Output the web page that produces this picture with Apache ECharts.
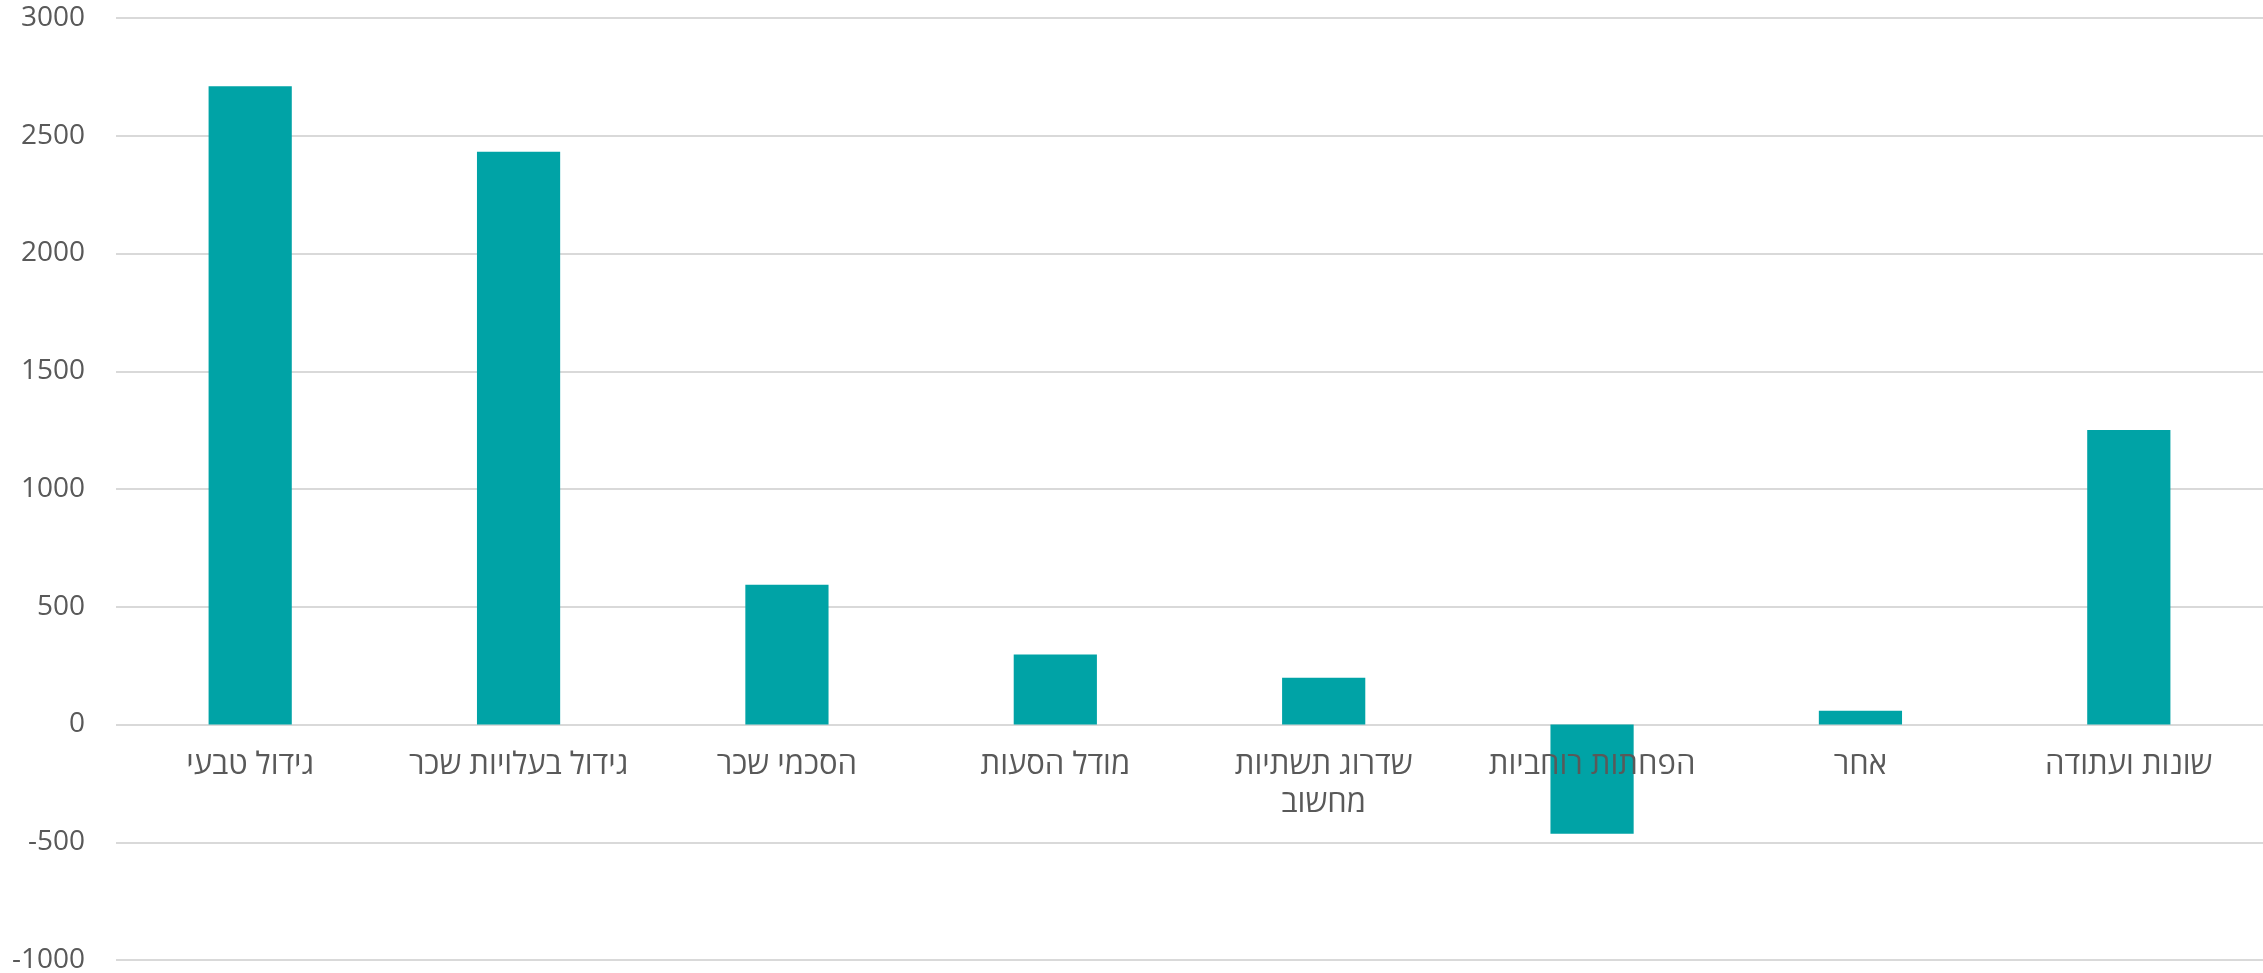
<!DOCTYPE html>
<html>
<head>
<meta charset="utf-8">
<style>
  html, body { margin: 0; padding: 0; background: #fff; }
  #chart { width: 2263px; height: 973px; }
</style>
<script src="https://cdn.jsdelivr.net/npm/echarts@6/dist/echarts.min.js"></script>
</head>
<body>
<div id="chart"></div>
<script>
// קטגוריות וערכים
var categories = ['גידול טבעי', 'גידול בעלויות שכר', 'הסכמי שכר', 'מודל הסעות', 'שדרוג תשתיות\nמחשוב', 'הפחתות רוחביות', 'אחר', 'שונות ועתודה'];
var values = [2710, 2432, 593, 297, 198, -464, 58, 1251];
var yTicks = { min: -1000, max: 3000, interval: 500 };

var fontFam = '"Open Sans", "Liberation Sans", "DejaVu Sans", sans-serif';
var myChart = echarts.init(document.getElementById('chart'));
var option = {
  animation: false,
  grid: {
    left: 116,
    right: 0,
    top: 18,
    bottom: 13,
    containLabel: false,
    outerBoundsMode: 'none'
  },
  xAxis: {
    type: 'category',
    data: categories,
    position: 'bottom',
    offset: -236, // תוויות בגובה קו האפס
    z: 10,
    axisLine: { show: false, onZero: false },
    axisTick: { show: false },
    axisLabel: {
      color: '#595959',
      fontSize: 31,
      fontFamily: fontFam,
      margin: 22,
      lineHeight: 38,
      interval: 0
    }
  },
  yAxis: {
    type: 'value',
    min: yTicks.min,
    max: yTicks.max,
    interval: yTicks.interval,
    axisLine: { show: false },
    axisTick: { show: false },
    axisLabel: {
      color: '#595959',
      fontSize: 28,
      fontFamily: fontFam,
      margin: 31,
      formatter: function (v) { return String(v); }
    },
    splitLine: {
      lineStyle: { color: '#d9d9d9', width: 2 }
    }
  },
  series: [
    {
      type: 'bar',
      data: values,
      barWidth: '31%',
      itemStyle: { color: '#00a3a6' }
    }
  ]
};
myChart.setOption(option);
</script>
</body>
</html>
